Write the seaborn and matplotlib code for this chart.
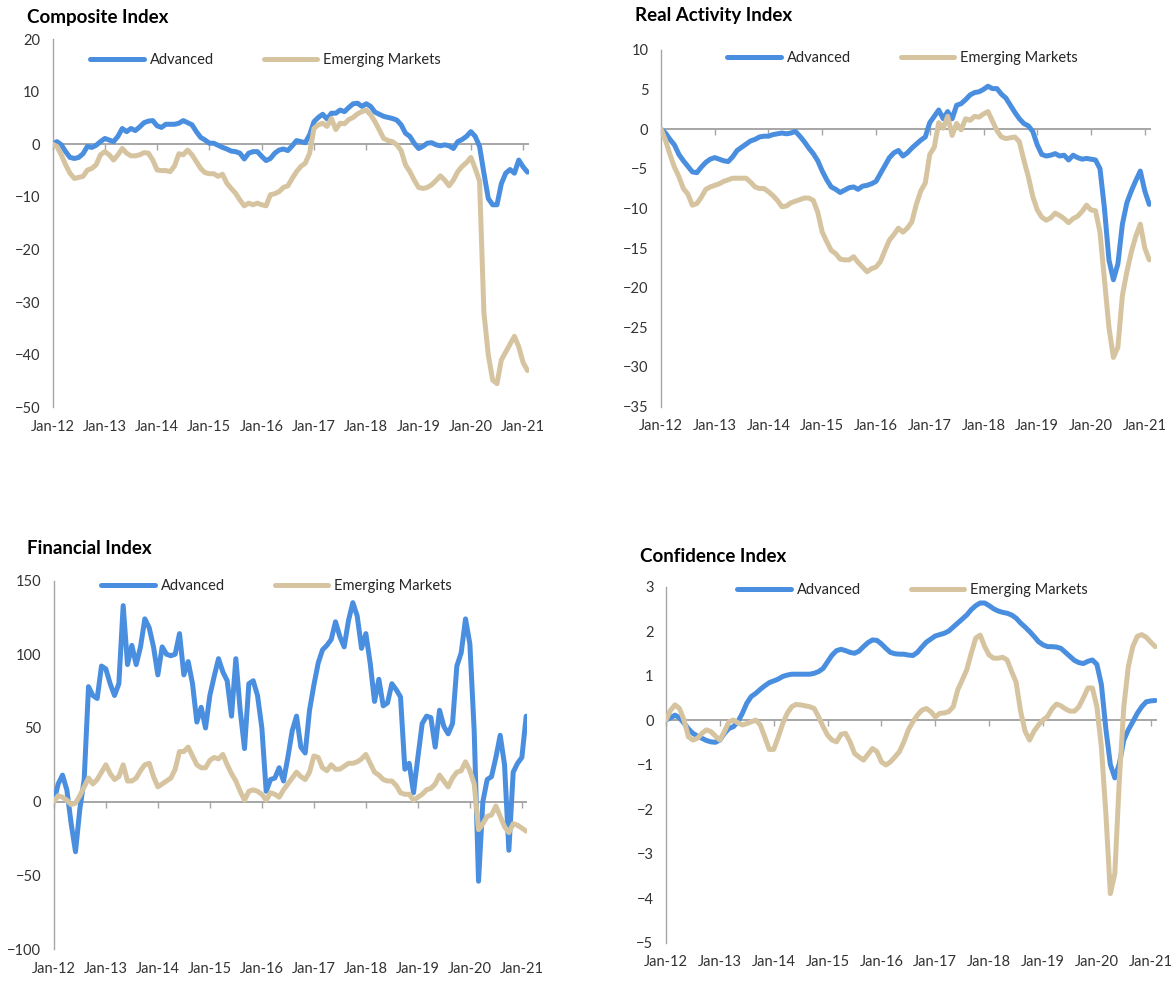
import numpy as np
import pandas as pd
import seaborn as sns
import matplotlib
matplotlib.use("Agg")
from matplotlib import pyplot as plt

# monthly observations, Jan-2012 onwards (110 months)
months = np.arange(110)
year_ticks = list(range(0, 109, 12))
year_labels = ["Jan-12", "Jan-13", "Jan-14", "Jan-15", "Jan-16",
               "Jan-17", "Jan-18", "Jan-19", "Jan-20", "Jan-21"]

composite_adv = [
    0.0, 0.5, -0.1, -1.4, -2.5, -2.7, -2.5, -1.8, -0.4, -0.6,
    -0.2, 0.5, 1.1, 0.8, 0.5, 1.5, 3.0, 2.4, 3.0, 2.6,
    3.3, 4.1, 4.4, 4.5, 3.5, 3.2, 3.8, 3.8, 3.8, 4.0,
    4.5, 4.1, 3.7, 2.4, 1.3, 0.8, 0.2, 0.2, -0.2, -0.6,
    -0.9, -1.3, -1.4, -1.7, -2.8, -1.7, -1.4, -1.4, -2.3, -3.1,
    -2.7, -1.7, -1.1, -0.9, -1.2, -0.3, 0.7, 0.5, 0.3, 1.8,
    4.3, 5.1, 5.7, 4.8, 5.9, 5.9, 6.5, 6.2, 7.0, 7.7,
    7.8, 7.2, 7.7, 7.2, 6.1, 5.7, 5.3, 5.1, 4.9, 4.6,
    3.7, 2.1, 1.5, 0.2, -0.8, -0.4, 0.2, 0.3, -0.1, -0.3,
    -0.1, -0.3, -0.8, 0.5, 0.9, 1.5, 2.4, 1.5, -0.4, -5.5,
    -10.3, -11.5, -11.5, -7.5, -5.5, -4.8, -5.5, -3.0, -4.3, -5.3]
composite_em = [
    0.0, -0.4, -2.0, -3.9, -5.5, -6.5, -6.3, -6.1, -4.9, -4.6,
    -3.9, -2.0, -1.4, -2.0, -3.0, -2.0, -0.8, -1.7, -2.2, -2.2,
    -2.0, -1.6, -1.7, -3.0, -4.9, -5.0, -5.0, -5.2, -4.1, -1.8,
    -2.0, -1.1, -2.0, -3.3, -4.6, -5.4, -5.6, -5.6, -6.1, -5.7,
    -7.4, -8.4, -9.3, -10.6, -11.7, -11.2, -11.5, -11.2, -11.5, -11.7,
    -9.6, -9.4, -9.0, -8.2, -7.9, -6.5, -5.2, -4.2, -3.6, -1.7,
    3.0, 3.7, 4.0, 3.4, 4.9, 2.8, 4.0, 3.9, 4.7, 5.1,
    5.8, 6.2, 6.5, 5.6, 4.3, 2.7, 1.1, 0.7, 0.5, -0.1,
    -1.2, -3.9, -5.2, -6.8, -8.2, -8.4, -8.2, -7.7, -6.9, -6.0,
    -6.8, -7.9, -6.8, -5.2, -4.2, -3.5, -2.5, -4.6, -7.0, -32.0,
    -40.0, -44.8, -45.5, -41.0, -39.5, -38.0, -36.5, -38.5, -41.5, -43.0]

real_adv = [
    0.0, -0.5, -1.3, -2.0, -3.2, -4.0, -4.7, -5.4, -5.5, -4.8,
    -4.2, -3.8, -3.6, -3.8, -4.0, -4.1, -3.5, -2.7, -2.3, -1.9,
    -1.5, -1.3, -1.0, -0.9, -0.9, -0.7, -0.6, -0.5, -0.6, -0.5,
    -0.3, -0.9, -1.6, -2.4, -3.1, -4.0, -5.3, -6.4, -7.3, -7.6,
    -8.0, -7.7, -7.4, -7.3, -7.6, -7.2, -7.1, -6.9, -6.6, -5.6,
    -4.6, -3.6, -3.0, -2.7, -3.4, -3.0, -2.4, -1.9, -1.4, -1.0,
    0.8, 1.6, 2.4, 1.3, 2.2, 1.3, 3.0, 3.2, 3.7, 4.3,
    4.6, 4.7, 5.0, 5.4, 5.1, 5.1, 4.4, 3.9, 3.0, 2.1,
    1.3, 0.7, 0.4, -0.3, -2.0, -3.2, -3.4, -3.3, -3.1, -3.4,
    -3.3, -3.9, -3.3, -3.6, -3.8, -3.7, -3.8, -3.9, -5.0, -10.0,
    -16.5, -19.0, -17.0, -12.0, -9.3, -7.8, -6.5, -5.3, -7.8, -9.5]
real_em = [
    0.0, -1.4, -3.2, -4.8, -6.0, -7.5, -8.2, -9.6, -9.4, -8.6,
    -7.6, -7.3, -7.1, -6.9, -6.6, -6.4, -6.2, -6.2, -6.2, -6.2,
    -6.7, -7.3, -7.5, -7.5, -7.9, -8.4, -9.0, -9.8, -9.7, -9.3,
    -9.1, -8.9, -8.7, -8.7, -9.0, -10.5, -13.0, -14.2, -15.3, -15.7,
    -16.4, -16.5, -16.5, -16.1, -16.8, -17.4, -18.0, -17.6, -17.4, -16.7,
    -15.3, -14.0, -13.3, -12.5, -13.0, -12.5, -11.7, -9.5, -7.8, -6.8,
    -3.2, -2.3, 0.8, 0.1, 1.6, -0.8, 0.7, -0.1, 1.3, 1.1,
    1.6, 1.5, 1.9, 2.2, 1.0, -0.2, -1.0, -1.2, -1.1, -1.0,
    -1.6, -3.9, -6.0, -8.5, -10.2, -11.1, -11.5, -11.2, -10.6, -10.9,
    -11.3, -11.8, -11.3, -11.0, -10.4, -9.6, -10.2, -10.3, -13.0, -19.0,
    -25.0, -28.8, -27.5, -21.0, -18.0, -15.5, -13.5, -12.0, -15.0, -16.5]

financial_adv = [
    0, 12, 18, 8, -15, -34, -5, 15, 78, 72,
    70, 92, 90, 80, 72, 80, 133, 93, 106, 93,
    105, 124, 118, 105, 86, 105, 100, 99, 100, 114,
    86, 95, 80, 54, 64, 50, 72, 85, 97, 88,
    82, 58, 97, 62, 36, 80, 82, 72, 50, 7,
    15, 16, 23, 14, 30, 48, 58, 37, 33, 62,
    79, 94, 103, 106, 110, 122, 112, 105, 123, 135,
    126, 104, 114, 94, 68, 83, 65, 67, 80, 76,
    71, 22, 26, 6, 30, 53, 58, 57, 37, 62,
    51, 46, 53, 92, 101, 124, 107, 48, -54, 0,
    15, 17, 30, 45, 25, -33, 20, 26, 30, 58]
financial_em = [
    0, 4, 3, 1, -2, -1, 4, 10, 16, 12,
    15, 20, 25, 19, 15, 17, 25, 14, 14, 16,
    21, 25, 26, 17, 10, 12, 14, 16, 22, 34,
    34, 37, 31, 25, 23, 23, 28, 30, 29, 32,
    25, 19, 14, 7, 1, 7, 8, 7, 5, 1,
    6, 5, 3, 8, 12, 16, 20, 17, 15, 20,
    31, 30, 23, 21, 25, 22, 22, 24, 26, 26,
    27, 29, 32, 26, 20, 18, 15, 14, 14, 11,
    6, 5, 5, 1, 3, 5, 8, 9, 12, 18,
    14, 10, 16, 20, 21, 27, 21, 12, -19, -15,
    -10, -9, -3, -10, -17, -21, -15, -16, -18, -20]

confidence_adv = [
    0.0, 0.05, 0.11, 0.05, -0.07, -0.2, -0.3, -0.36, -0.41, -0.46,
    -0.49, -0.5, -0.45, -0.3, -0.19, -0.15, -0.04, 0.15, 0.38, 0.53,
    0.6, 0.69, 0.77, 0.84, 0.88, 0.92, 0.98, 1.01, 1.03, 1.03,
    1.03, 1.03, 1.03, 1.05, 1.09, 1.16, 1.31, 1.46, 1.56, 1.59,
    1.56, 1.52, 1.5, 1.55, 1.65, 1.74, 1.8, 1.79, 1.71, 1.61,
    1.52, 1.49, 1.48, 1.48, 1.46, 1.45, 1.52, 1.64, 1.75, 1.82,
    1.89, 1.92, 1.95, 2.0, 2.09, 2.18, 2.27, 2.36, 2.48, 2.57,
    2.63, 2.63, 2.57, 2.5, 2.45, 2.42, 2.4, 2.36, 2.29, 2.18,
    2.09, 1.99, 1.88, 1.76, 1.69, 1.65, 1.65, 1.64, 1.61, 1.52,
    1.43, 1.34, 1.29, 1.27, 1.32, 1.35, 1.25, 0.8, -0.2, -1.0,
    -1.3, -0.98, -0.45, -0.22, -0.04, 0.15, 0.3, 0.41, 0.43, 0.44]
confidence_em = [
    0.0, 0.22, 0.34, 0.26, 0.0, -0.38, -0.45, -0.41, -0.3, -0.22,
    -0.26, -0.36, -0.45, -0.26, -0.04, 0.0, -0.06, -0.11, -0.08, -0.04,
    0.0, -0.11, -0.38, -0.66, -0.66, -0.38, -0.08, 0.15, 0.3, 0.35,
    0.34, 0.32, 0.3, 0.26, 0.07, -0.15, -0.34, -0.45, -0.49, -0.32,
    -0.3, -0.49, -0.75, -0.83, -0.9, -0.77, -0.64, -0.71, -0.94, -1.01,
    -0.94, -0.83, -0.71, -0.49, -0.22, -0.04, 0.11, 0.22, 0.26, 0.19,
    0.07, 0.15, 0.16, 0.19, 0.3, 0.68, 0.9, 1.13, 1.5, 1.84,
    1.91, 1.65, 1.46, 1.39, 1.39, 1.41, 1.35, 1.09, 0.85, 0.2,
    -0.25, -0.45, -0.25, -0.11, 0.0, 0.08, 0.25, 0.36, 0.32, 0.25,
    0.2, 0.2, 0.3, 0.5, 0.72, 0.72, 0.3, -0.6, -2.1, -3.9,
    -3.45, -1.35, 0.3, 1.2, 1.65, 1.88, 1.92, 1.86, 1.75, 1.65]

BLUE = "#4A8FDF"
TAN = "#D6C4A0"
GREY = "#A6A6A6"
W, H = 1173, 981

sns.set_style("white")
plt.rcParams["font.family"] = ["Lato", "DejaVu Sans"]


def draw_panel(fig, rect, title, title_xy, legend_xy, adv, em, ylim, ystep):
    ax = fig.add_axes(rect)
    df = pd.DataFrame({"month": months, "Advanced": adv, "Emerging Markets": em})

    # grey zero line behind the data
    ax.axhline(0, color=GREY, lw=1.4, zorder=1)

    sns.lineplot(data=df, x="month", y="Advanced", ax=ax, color=BLUE, lw=3.6, zorder=3,
                 label="Advanced", solid_capstyle="round", solid_joinstyle="round")
    sns.lineplot(data=df, x="month", y="Emerging Markets", ax=ax, color=TAN, lw=3.6, zorder=3,
                 label="Emerging Markets", solid_capstyle="round", solid_joinstyle="round")

    ax.set_xlim(0, 109.3)
    ax.set_ylim(*ylim)
    ax.set_xlabel("")
    ax.set_ylabel("")

    for side in ["top", "right", "bottom"]:
        ax.spines[side].set_visible(False)
    ax.spines["left"].set_color(GREY)
    ax.spines["left"].set_linewidth(1.0)

    ax.set_yticks(np.arange(ylim[0], ylim[1] + ystep / 2, ystep))
    ax.tick_params(axis="y", direction="in", length=5, width=1, color=GREY,
                   labelsize=10.5, labelcolor="#333333", pad=9)
    ax.set_xticks(year_ticks)
    ax.set_xticklabels(year_labels)
    ax.tick_params(axis="x", length=0, labelsize=10.5, labelcolor="#333333", pad=9)

    # year tick marks hanging below the zero line
    zero_frac = (0 - ylim[0]) / (ylim[1] - ylim[0])
    sec = ax.secondary_xaxis(zero_frac)
    sec.set_xticks(year_ticks)
    sec.set_xticklabels([])
    for side in ["top", "bottom"]:
        sec.spines[side].set_visible(False)
    tick_dir = "in" if zero_frac >= 0.5 else "out"
    sec.tick_params(axis="x", direction=tick_dir, length=4, width=1, color=GREY)

    ax.legend(loc="center left", bbox_to_anchor=(legend_xy[0] / W, 1 - legend_xy[1] / H),
              bbox_transform=fig.transFigure, ncol=2, frameon=False,
              handlelength=3.7, handletextpad=0.4, columnspacing=3.4,
              borderpad=0, borderaxespad=0, fontsize=10.5)

    fig.text(title_xy[0] / W, 1 - title_xy[1] / H, title, fontsize=13.5,
             fontweight="bold", ha="left", va="center", color="black")
    return ax


fig = plt.figure(figsize=(11.73, 9.81), dpi=100)

draw_panel(fig, [0.0448, 0.5848, 0.406, 0.3754], "Composite Index", (27, 18), (90, 60),
           composite_adv, composite_em, (-50, 20), 10)
draw_panel(fig, [0.5635, 0.5855, 0.4174, 0.3638], "Real Activity Index", (635, 15), (727, 58),
           real_adv, real_em, (-35, 10), 5)
draw_panel(fig, [0.0459, 0.0326, 0.4038, 0.3756], "Financial Index", (27, 548), (101, 586),
           financial_adv, financial_em, (-100, 150), 50)
draw_panel(fig, [0.5678, 0.0392, 0.4182, 0.3629], "Confidence Index", (640, 557), (737, 590),
           confidence_adv, confidence_em, (-5, 3), 1)

fig.savefig("out.png", dpi=100)
